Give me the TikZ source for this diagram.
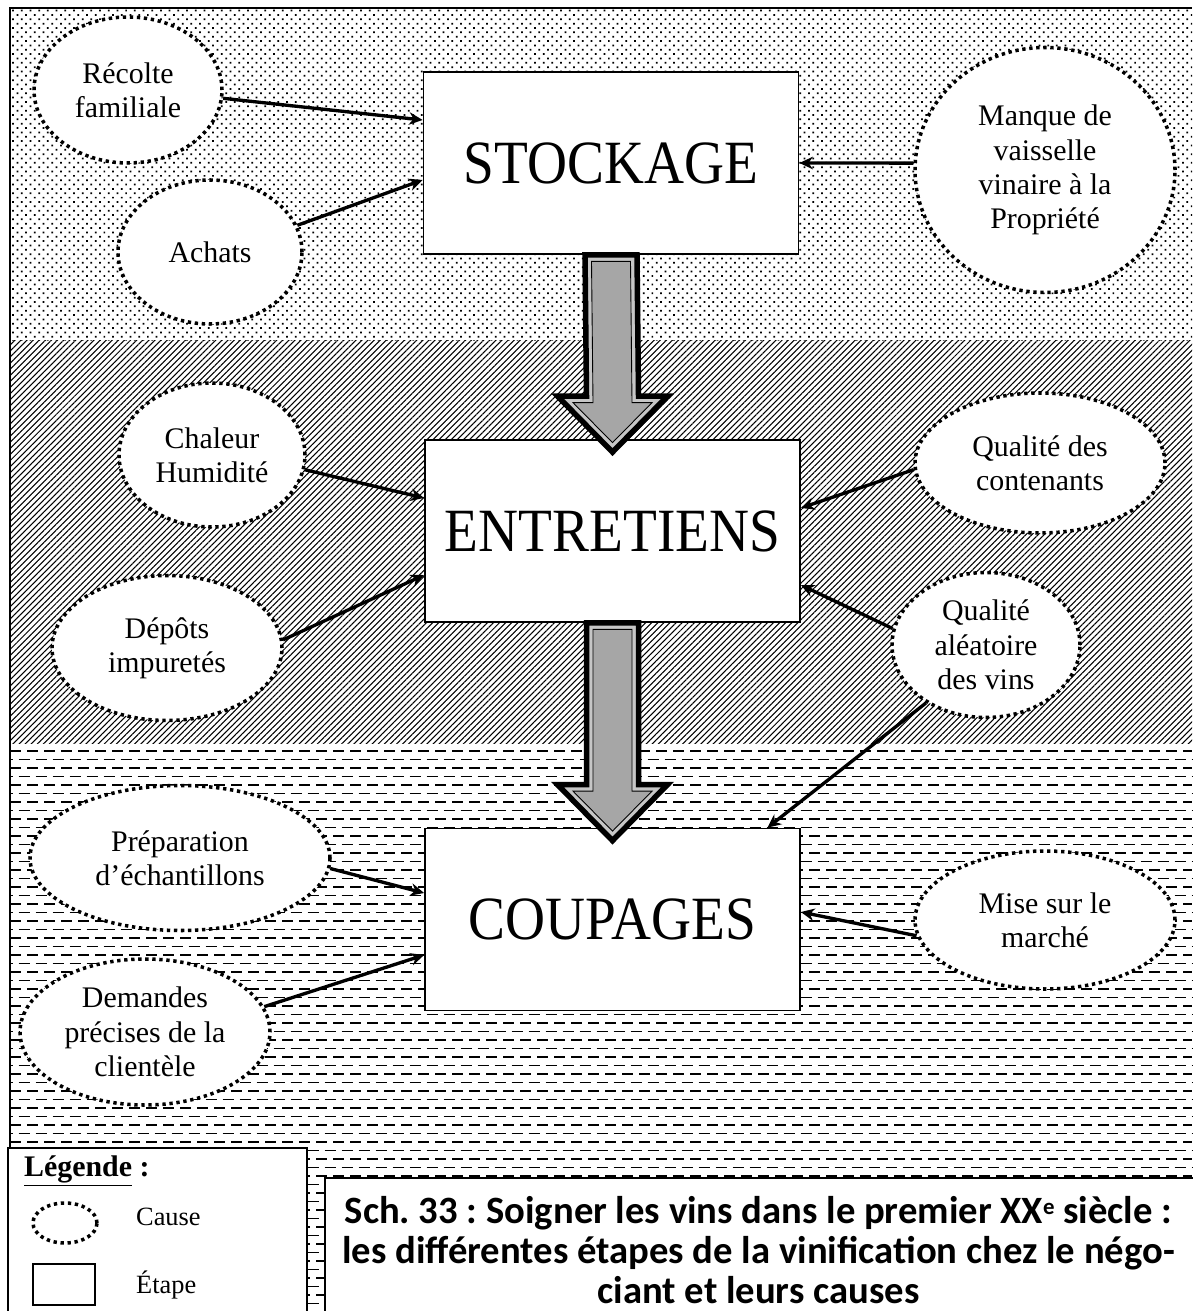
\documentclass[tikz,border=0pt]{standalone}
\usepackage{fontspec}
\setmainfont{Liberation Serif}
\newfontfamily\stagefont[FakeStretch=0.9]{Liberation Serif}
\newfontfamily\titlefont{Carlito}
\usepackage{tikz}
\usetikzlibrary{shapes,arrows,arrows.meta,positioning,calc,patterns.meta}

% big grey arrow between two stages
\newcommand{\stagearrow}[2]{%
  \coordinate (shaft) at (#1.south);
  \coordinate (tip) at ($(#2.north)+(0,-0.26)$);
  \coordinate (neck) at ($(tip)+(0,1.12)$);
  \draw[line width=0.11cm, fill=gray!45]
    ($(shaft)+(-0.52,0)$) -- ($(neck)+(-0.52,0)$) -- ($(neck)+(-1.1,0)$) -- (tip)
    -- ($(neck)+(1.1,0)$) -- ($(neck)+(0.52,0)$) -- ($(shaft)+(0.52,0)$) -- cycle;
  \draw[line width=0.5pt, fill=gray!70]
    ($(shaft)+(-0.39,-0.13)$) -- ($(neck)+(-0.39,-0.13)$) -- ($(neck)+(-0.79,-0.13)$) -- ($(tip)+(0,0.19)$)
    -- ($(neck)+(0.79,-0.13)$) -- ($(neck)+(0.39,-0.13)$) -- ($(shaft)+(0.39,-0.13)$) -- cycle;
}

\begin{document}
\frenchspacing
\begin{tikzpicture}[
    stage/.style={rectangle, draw, line width=1pt, fill=white, minimum width=7.5cm, minimum height=3.64cm, font=\stagefont\fontsize{35}{40}\selectfont},
    cause/.style={ellipse, draw, fill=white, line width=2pt, dash pattern=on 1.9pt off 2.1pt, inner sep=0pt, align=center, font=\fontsize{17}{19.5}\selectfont},
    arrow/.style={->, >={Stealth[length=0.27cm, width=0.25cm]}, line width=1.9pt},
    dashrow/.style={line width=0.75pt, dash pattern=on 0.22cm off 0.12cm},
    legendtext/.style={anchor=west, font=\fontsize{15}{18}\selectfont}
]
\useasboundingbox (0,0) rectangle (23.84,-26.22);

% Background zones
\fill[pattern={Dots[angle=45, distance=3.5pt, radius=0.7pt]}] (0.2,-0.16) rectangle (23.84,-6.82);
\fill[pattern={Lines[angle=45, distance=2.45pt, line width=0.6pt]}] (0.2,-6.82) rectangle (23.84,-14.86);
\foreach \i in {0,...,66}{
    \pgfmathsetmacro\ph{mod(\i,2)*0.17}
    \draw[dashrow, dash phase=\ph cm] (0.2,{-15.02-0.17*\i}) -- (23.84,{-15.02-0.17*\i});
}
\draw[line width=1pt] (0.2,-22.96) -- (0.2,-0.16) -- (23.84,-0.16);

% Stages
\node[stage] (stock) at (12.22,-3.26) {STOCKAGE};
\node[stage] (entret) at (12.25,-10.62) {ENTRETIENS};
\node[stage] (coup) at (12.25,-18.39) {COUPAGES};

% Causes
\node[cause, minimum width=3.76cm, minimum height=2.92cm] (recolte) at (2.56,-1.80) {Récolte\\familiale};
\node[cause, minimum width=3.68cm, minimum height=2.88cm] (achats) at (4.20,-5.04) {Achats};
\node[cause, minimum width=5.2cm, minimum height=4.9cm] (manque) at (20.90,-3.40) {Manque de\\vaisselle\\vinaire à la\\Propriété};
\node[cause, minimum width=3.72cm, minimum height=2.88cm] (chaleur) at (4.24,-9.10) {Chaleur\\Humidité};
\node[cause, minimum width=4.6cm, minimum height=2.9cm] (depots) at (3.34,-12.96) {Dépôts\\impuretés};
\node[cause, minimum width=5.0cm, minimum height=2.8cm] (contenants) at (20.80,-9.26) {Qualité des\\contenants};
\node[cause, minimum width=3.76cm, minimum height=2.9cm] (aleatoire) at (19.72,-12.90) {Qualité\\aléatoire\\des vins};
\node[cause, minimum width=6.0cm, minimum height=2.9cm] (preparation) at (3.60,-17.16) {Préparation\\d’échantillons};
\node[cause, minimum width=5.0cm, minimum height=2.92cm] (demandes) at (2.90,-20.64) {Demandes\\précises de la\\clientèle};
\node[cause, minimum width=5.2cm, minimum height=2.76cm] (mise) at (20.90,-18.40) {Mise sur le\\marché};

% Big arrows
\stagearrow{stock}{entret}
\stagearrow{entret}{coup}

% Cause arrows
\draw[arrow] (recolte.-5) -- ($(stock.west)+(0,0.86)$);
\draw[arrow] (achats.17) -- ($(stock.west)+(0,-0.34)$);
\draw[arrow] (manque.177) -- (stock.east);
\draw[arrow] (chaleur.-9) -- ($(entret.west)+(0,0.66)$);
\draw[arrow] (depots.4) -- ($(entret.west)+(0,-0.88)$);
\draw[arrow] (contenants.183) -- ($(entret.east)+(0,0.46)$);
\draw[arrow] (aleatoire.170) -- ($(entret.east)+(0,-1.08)$);
\draw[arrow] (aleatoire.224) -- ($(coup.north)+(3.1,0)$);
\draw[arrow] (preparation.-4) -- ($(coup.west)+(0,0.53)$);
\draw[arrow] (demandes.12) -- ($(coup.west)+(0,-0.71)$);
\draw[arrow] (mise.187) -- ($(coup.east)+(0,0.15)$);

% Legend
\draw[line width=1pt, fill=white] (0.16,-22.96) rectangle (6.14,-26.5);
\node[anchor=west, font=\bfseries\fontsize{17}{20}\selectfont] (legend) at (0.36,-23.42) {\underline{Légende} :};
\node[cause, minimum width=1.28cm, minimum height=0.8cm] (keycause) at (1.30,-24.46) {};
\node[legendtext] (keycausetext) at (2.6,-24.34) {Cause};
\node[rectangle, draw, line width=1.5pt, minimum width=1.24cm, minimum height=0.82cm] (keystage) at (1.28,-25.69) {};
\node[legendtext] (keystagetext) at (2.6,-25.7) {Étape};

% Title
\draw[line width=1pt, fill=white] (6.5,-23.56) rectangle (24,-26.5);
\node[font=\titlefont\bfseries\fontsize{22}{22.7}\selectfont, align=center] (title) at (15.17,-25.0) {
    Sch. 33 : Soigner les vins dans le premier XX\raisebox{0.5ex}{\fontsize{13}{13}\selectfont e} siècle :\\
    les différentes étapes de la vinification chez le négo-\\
    ciant et leurs causes
};
\end{tikzpicture}
\end{document}
